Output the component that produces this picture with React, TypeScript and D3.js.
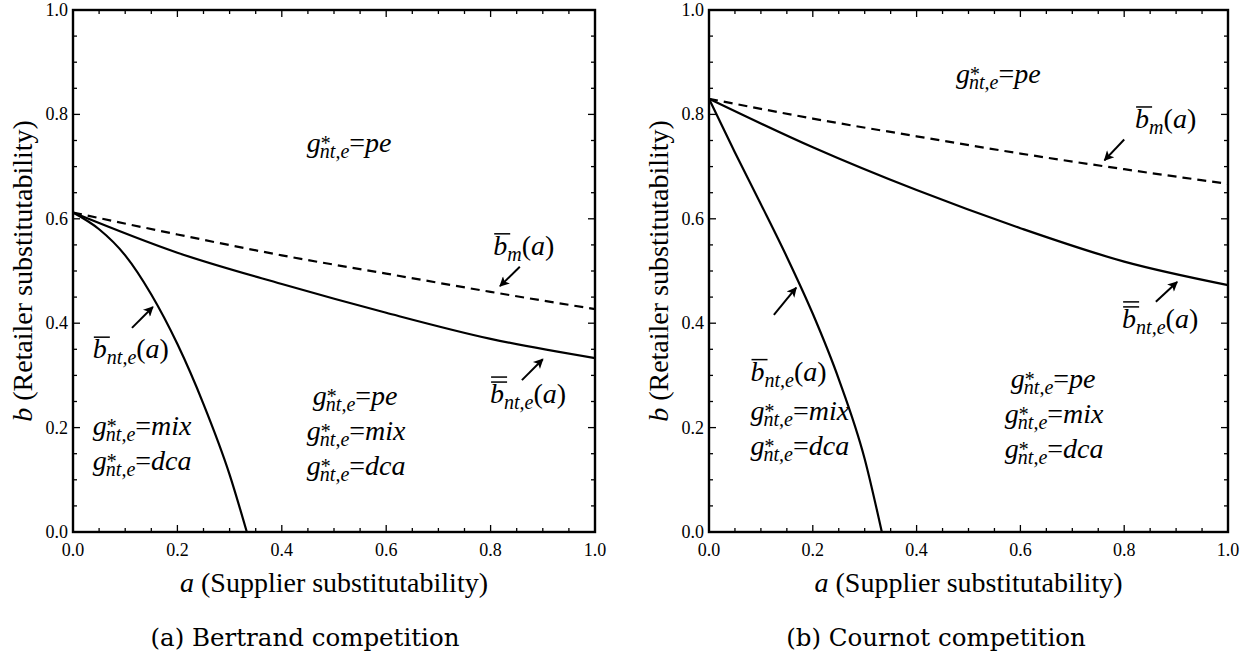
import React from "react";
import * as d3 from "d3";

// Bertrand panel curves
const bertrandLowA = [0, 0.05, 0.1, 0.15, 0.2, 0.25, 0.3, 0.333];
const bertrandLowB = [0.612, 0.58, 0.53, 0.455, 0.36, 0.245, 0.11, 0];
const bertrandHighA = [0, 0.2, 0.4, 0.6, 0.8, 1.0];
const bertrandHighB = [0.612, 0.535, 0.475, 0.42, 0.37, 0.333];
const bertrandMA = [0, 0.2, 0.4, 0.6, 0.8, 1.0];
const bertrandMB = [0.612, 0.57, 0.53, 0.495, 0.46, 0.427];

// Cournot panel curves
const cournotLowA = [0, 0.05, 0.1, 0.15, 0.2, 0.25, 0.3, 0.333];
const cournotLowB = [0.83, 0.727, 0.628, 0.527, 0.418, 0.293, 0.14, 0];
const cournotHighA = [0, 0.2, 0.4, 0.6, 0.8, 1.0];
const cournotHighB = [0.83, 0.737, 0.655, 0.582, 0.518, 0.473];
const cournotMA = [0, 0.2, 0.4, 0.6, 0.8, 1.0];
const cournotMB = [0.83, 0.792, 0.758, 0.725, 0.695, 0.667];

const majorTicks = [0, 0.2, 0.4, 0.6, 0.8, 1.0];
const tickLabels = ["0.0", "0.2", "0.4", "0.6", "0.8", "1.0"];
const captions = ["(a) Bertrand competition", "(b) Cournot competition"];

const zip = (xs: number[], ys: number[]) => xs.map((x, i) => [x, ys[i]] as [number, number]);

const panels = [
  {
    left: 73, right: 595, caption: captions[0], capX: 305,
    low: zip(bertrandLowA, bertrandLowB),
    high: zip(bertrandHighA, bertrandHighB),
    m: zip(bertrandMA, bertrandMB),
    top: [0.448, 0.728],
    mLabel: [0.805, 0.531], mArrow: [0.856, 0.508, 0.818, 0.471],
    hLabel: [0.799, 0.247], hArrow: [0.86, 0.291, 0.9, 0.331],
    lLabel: [0.038, 0.333], lArrow: [0.113, 0.391, 0.153, 0.431],
    leftGrp: [0.038, 0.186],
    midGrp: [0.448, 0.243],
  },
  {
    left: 709, right: 1228, caption: captions[1], capX: 936,
    low: zip(cournotLowA, cournotLowB),
    high: zip(cournotHighA, cournotHighB),
    m: zip(cournotMA, cournotMB),
    top: [0.476, 0.86],
    mLabel: [0.821, 0.774], mArrow: [0.80, 0.752, 0.762, 0.712],
    hLabel: [0.796, 0.391], hArrow: [0.861, 0.441, 0.902, 0.479],
    lLabel: [0.08, 0.29], lArrow: [0.125, 0.416, 0.168, 0.468],
    leftGrp: [0.08, 0.215],
    midGrp: [0.57, 0.276],
  },
];

const TOP = 10;
const BOTTOM = 532;
const MATH = "Liberation Serif, Tinos, Times New Roman, Times, serif";

function GStar({ x, y, rhs }: { x: number; y: number; rhs: string }) {
  return (
    <text x={x} y={y} fontFamily={MATH} fontStyle="italic" fontSize={28}>
      g
      <tspan fontSize={20} dy={-2} dx={-1}>*</tspan>
      <tspan fontSize={20} dy={8} dx={-10}>nt,e</tspan>
      <tspan fontSize={28} dy={-6} fontStyle="normal">=</tspan>
      <tspan>{rhs}</tspan>
    </text>
  );
}

function BLabel({ x, y, sub, bars }: { x: number; y: number; sub: string; bars: number }) {
  return (
    <g>
      <text x={x} y={y} fontFamily={MATH} fontSize={28}>
        <tspan fontStyle="italic">b</tspan>
        <tspan fontStyle="italic" fontSize={20} dy={6}>{sub}</tspan>
        <tspan dy={-6}>(</tspan>
        <tspan fontStyle="italic">a</tspan>
        <tspan>)</tspan>
      </text>
      {d3.range(bars).map((k) => (
        <line key={k} x1={x + 1} x2={x + 17} y1={y - 21 - k * 5} y2={y - 21 - k * 5}
          stroke="#000" strokeWidth={1.5} />
      ))}
    </g>
  );
}

function Panel({ p }: { p: (typeof panels)[number] }) {
  const x = d3.scaleLinear().domain([0, 1]).range([p.left, p.right]);
  const y = d3.scaleLinear().domain([0, 1]).range([BOTTOM, TOP]);
  const line = d3.line<[number, number]>().x((d) => x(d[0])).y((d) => y(d[1])).curve(d3.curveMonotoneX);
  const minor = d3.range(0, 1.0001, 0.05);
  const isMajor = (v: number) => Math.abs(v * 5 - Math.round(v * 5)) < 1e-6;
  const arrow = (a: number[], key: string) => (
    <line key={key} x1={x(a[0])} y1={y(a[1])} x2={x(a[2])} y2={y(a[3])}
      stroke="#000" strokeWidth={2} markerEnd="url(#head)" />
  );
  const cx = (p.left + p.right) / 2;
  return (
    <g>
      <path d={line(p.m) ?? ""} fill="none" stroke="#000" strokeWidth={2.2} strokeDasharray="9,6" />
      <path d={line(p.high) ?? ""} fill="none" stroke="#000" strokeWidth={2.2} />
      <path d={line(p.low) ?? ""} fill="none" stroke="#000" strokeWidth={2.2} />

      {minor.map((v, i) => {
        const len = isMajor(v) ? 7 : 4;
        return (
          <g key={i} stroke="#000" strokeWidth={1.3}>
            <line x1={x(v)} x2={x(v)} y1={BOTTOM} y2={BOTTOM - len} />
            <line x1={x(v)} x2={x(v)} y1={TOP} y2={TOP + len} />
            <line y1={y(v)} y2={y(v)} x1={p.left} x2={p.left + len} />
            <line y1={y(v)} y2={y(v)} x1={p.right} x2={p.right - len} />
          </g>
        );
      })}
      <rect x={p.left} y={TOP} width={p.right - p.left} height={BOTTOM - TOP}
        fill="none" stroke="#000" strokeWidth={2.4} />

      {majorTicks.map((v, i) => (
        <g key={i} fontFamily={MATH} fontSize={18}>
          <text x={x(v)} y={BOTTOM + 24} textAnchor="middle">{tickLabels[i]}</text>
          <text x={p.left - 5} y={y(v) + 6} textAnchor="end">{tickLabels[i]}</text>
        </g>
      ))}

      <text x={cx} y={592} textAnchor="middle" fontFamily={MATH} fontSize={28}>
        <tspan fontStyle="italic">a</tspan> (Supplier substitutability)
      </text>
      <text transform={`translate(${p.left - 41},${(TOP + BOTTOM) / 2}) rotate(-90)`} textAnchor="middle"
        fontFamily={MATH} fontSize={28}>
        <tspan fontStyle="italic">b</tspan> (Retailer substitutability)
      </text>
      <text x={p.capX} y={646} textAnchor="middle" fontFamily="DejaVu Serif, serif" fontSize={24.5}>
        {p.caption}
      </text>

      <GStar x={x(p.top[0])} y={y(p.top[1])} rhs="pe" />
      <BLabel x={x(p.mLabel[0])} y={y(p.mLabel[1])} sub="m" bars={1} />
      {arrow(p.mArrow, "am")}
      <BLabel x={x(p.hLabel[0])} y={y(p.hLabel[1])} sub="nt,e" bars={2} />
      {arrow(p.hArrow, "ah")}
      <BLabel x={x(p.lLabel[0])} y={y(p.lLabel[1])} sub="nt,e" bars={1} />
      {arrow(p.lArrow, "al")}

      <GStar x={x(p.leftGrp[0])} y={y(p.leftGrp[1])} rhs="mix" />
      <GStar x={x(p.leftGrp[0])} y={y(p.leftGrp[1]) + 35} rhs="dca" />

      <GStar x={x(p.midGrp[0]) + 6} y={y(p.midGrp[1])} rhs="pe" />
      <GStar x={x(p.midGrp[0])} y={y(p.midGrp[1]) + 35} rhs="mix" />
      <GStar x={x(p.midGrp[0])} y={y(p.midGrp[1]) + 70} rhs="dca" />
    </g>
  );
}

export default function App() {
  return (
    <svg width={1255} height={664} style={{ position: "absolute", left: 0, top: 0, background: "#fff" }}>
      <defs>
        <marker id="head" viewBox="0 0 10 10" refX="9" refY="5" markerWidth="6" markerHeight="5"
          orient="auto" markerUnits="strokeWidth">
          <path d="M0,0 L10,5 L0,10 L2.5,5 z" fill="#000" />
        </marker>
      </defs>
      {panels.map((p, i) => (
        <Panel key={i} p={p} />
      ))}
    </svg>
  );
}
